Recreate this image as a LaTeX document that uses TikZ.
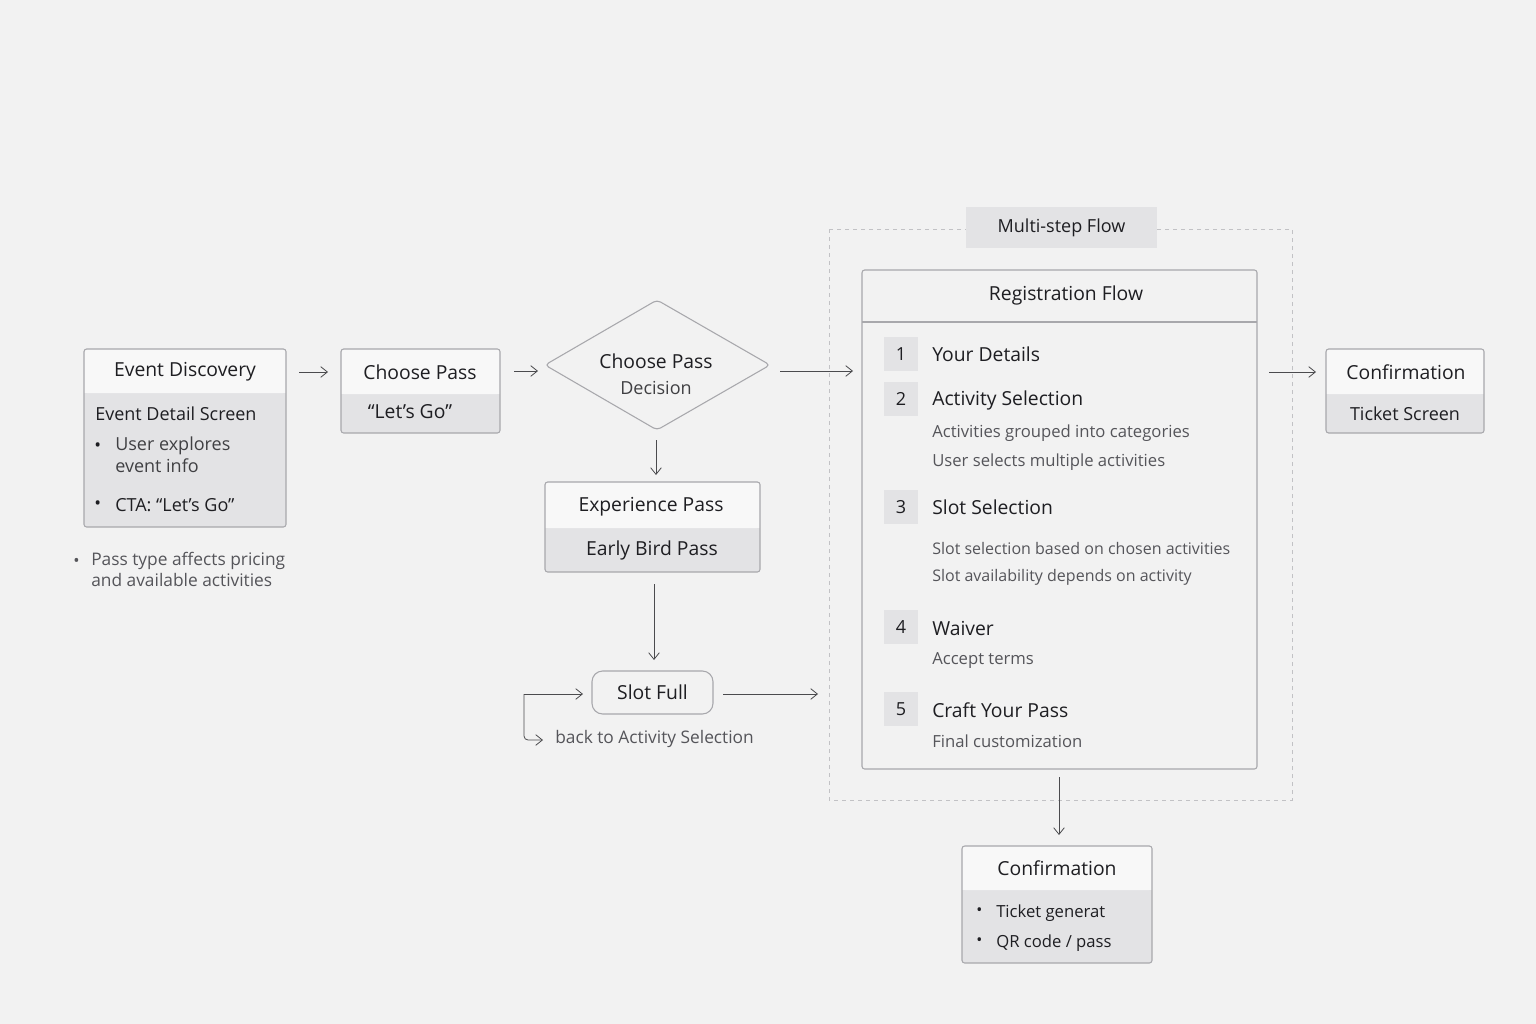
\documentclass[tikz,border=0pt]{standalone}
\usepackage{fontspec}
\setmainfont{Open Sans}
\usetikzlibrary{arrows.meta,shapes.geometric}
\definecolor{bg}{HTML}{F2F2F2}
\definecolor{hd}{HTML}{F8F8F8}
\definecolor{bd}{HTML}{E3E3E5}
\definecolor{ln}{HTML}{A8A8AC}
\definecolor{tx}{HTML}{1E1E22}
\definecolor{sub}{HTML}{55555A}
\tikzset{
 box/.style={draw=ln,line width=0.8pt,rounded corners=2pt},
 t/.style={text=tx,font=\fontsize{14.5}{17}\selectfont,inner sep=0},
 s/.style={text=tx,font=\fontsize{13.5}{16}\selectfont,inner sep=0},
 g/.style={text=sub,font=\fontsize{12.5}{15}\selectfont,inner sep=0,anchor=west},
 arr/.style={draw=tx!80,line width=0.6pt,-{Straight Barb[length=5pt,width=8pt]}},
 num/.style={fill=bd,minimum width=25pt,minimum height=25pt,inner sep=0,text=tx,font=\fontsize{13.5}{16}\selectfont},
}
\begin{document}
\begin{tikzpicture}[x=0.75pt,y=-0.75pt]
\fill[bg] (0,0) rectangle (1536,1024);
\useasboundingbox (0,0) rectangle (1536,1024);
% Event Discovery
\fill[bd,rounded corners=2pt] (84,349) rectangle (286,527);
\fill[hd,rounded corners=2pt] (84,349) rectangle (286,393);
\fill[hd] (84,370) rectangle (286,393);
\draw[box] (84,349) rectangle (286,527);
\node[t] (ed) at (185,372) {Event Discovery};
\node[s,anchor=west] (eds) at (95,414) {Event Detail Screen};
\node[s,anchor=west] (b1) at (94,447) {•};
\node[s,anchor=north west,align=left,text=tx!85] (b1t) at (115,437) {User explores\\event info};
\node[s,anchor=west] (b2) at (94,505) {•};
\node[s,anchor=west] (b2t) at (115,505) {CTA: “Let’s Go”};
\node[g,anchor=west] (nb) at (73,562) {•};
\node[g,anchor=north west,align=left,font=\fontsize{13}{16}\selectfont] (nt) at (91,552) {Pass type affects pricing\\and available activities};
% Choose Pass box
\fill[bd,rounded corners=2pt] (341,349) rectangle (500,433);
\fill[hd,rounded corners=2pt] (341,349) rectangle (500,394);
\fill[hd] (341,375) rectangle (500,394);
\draw[box] (341,349) rectangle (500,433);
\node[t] (cp) at (420,372) {Choose Pass};
\node[t] (lg) at (410,412) {“Let’s Go”};
\coordinate (a1s) at (299,372); \coordinate (a1e) at (328,372);
\draw[arr] (a1s) -- (a1e);
\coordinate (a2s) at (514,371); \coordinate (a2e) at (538,371);
\draw[arr] (a2s) -- (a2e);
% diamond
\draw[ln,line width=0.8pt,fill=bg,rounded corners=3pt] (657,300) -- (770,365) -- (657,430) -- (545,365) -- cycle;
\node[t] (dt) at (656,361) {Choose Pass};
\node[s,text=tx!85] (dd) at (656,388) {Decision};
\coordinate (a3s) at (780,371); \coordinate (a3e) at (853,371);
\draw[arr] (a3s) -- (a3e);
\coordinate (a4s) at (656,440); \coordinate (a4e) at (656,475);
\draw[arr] (a4s) -- (a4e);
% Experience pass
\fill[bd,rounded corners=2pt] (545,482) rectangle (760,572);
\fill[hd,rounded corners=2pt] (545,482) rectangle (760,528);
\fill[hd] (545,505) rectangle (760,528);
\draw[box] (545,482) rectangle (760,572);
\node[t] (ep) at (651,507) {Experience Pass};
\node[t] (eb) at (652,550) {Early Bird Pass};
\coordinate (a5s) at (654,584); \coordinate (a5e) at (654,660);
\draw[arr] (a5s) -- (a5e);
% Slot Full
\node[box,fill=bg,rounded corners=8pt,minimum width=121*0.75pt,minimum height=43*0.75pt,t] (sf) at (652.5,692.5) {Slot Full};
\coordinate (a6s) at (723,694); \coordinate (a6e) at (818,694);
\draw[arr] (a6s) -- (a6e);
\coordinate (l1) at (583,694); \coordinate (l0) at (524,694); \coordinate (l2) at (524,740); \coordinate (l3) at (543,740);
\draw[arr,rounded corners=3pt] (l0) -- (l1);
\draw[arr,rounded corners=3pt] (l0) -- (l2) -- (l3);
\node[g,font=\fontsize{13}{16}\selectfont] (bk) at (555,739) {back to Activity Selection};
% dashed frame
\draw[ln!70,dash pattern=on 3pt off 3pt,line width=0.6pt] (829,229) rectangle (1292,800);
\node[fill=bd,minimum width=191*0.75pt,minimum height=41*0.75pt,t,font=\fontsize{13.5}{16}\selectfont] (ms) at (1061.5,227.5) {Multi-step Flow};
% Registration
\draw[box,fill=bg] (862,270) rectangle (1257,769);
\draw[ln,line width=0.8pt] (862,322) -- (1257,322);
\node[t] (rf) at (1066,295) {Registration Flow};
\node[num] (n1) at (901,354) {1};
\node[t,anchor=west] (i1) at (932,354) {Your Details};
\node[num] (n2) at (901,399) {2};
\node[t,anchor=west] (i2) at (932,400) {Activity Selection};
\node[g] (i2a) at (932,433) {Activities grouped into categories};
\node[g] (i2b) at (932,462) {User selects multiple activities};
\node[num] (n3) at (901,507) {3};
\node[t,anchor=west] (i3) at (932,507) {Slot Selection};
\node[g,font=\fontsize{12}{15}\selectfont] (i3a) at (932,548) {Slot selection based on chosen activities};
\node[g,font=\fontsize{12}{15}\selectfont] (i3b) at (932,577) {Slot availability depends on activity};
\node[num] (n4) at (901,627) {4};
\node[t,anchor=west] (i4) at (932,628) {Waiver};
\node[g] (i4a) at (932,661) {Accept terms};
\node[num] (n5) at (901,709) {5};
\node[t,anchor=west] (i5) at (932,710) {Craft Your Pass};
\node[g] (i5a) at (932,741) {Final customization};
\coordinate (a7s) at (1269,372); \coordinate (a7e) at (1316,372);
\draw[arr] (a7s) -- (a7e);
% Confirmation right
\fill[bd,rounded corners=2pt] (1326,349) rectangle (1484,433);
\fill[hd,rounded corners=2pt] (1326,349) rectangle (1484,394);
\fill[hd] (1326,375) rectangle (1484,394);
\draw[box] (1326,349) rectangle (1484,433);
\node[t] (cr) at (1406,372) {Confirmation};
\node[s] (ts) at (1405,414) {Ticket Screen};
\coordinate (a8s) at (1059,777); \coordinate (a8e) at (1059,835);
\draw[arr] (a8s) -- (a8e);
% Confirmation bottom
\fill[bd,rounded corners=2pt] (962,846) rectangle (1152,963);
\fill[hd,rounded corners=2pt] (962,846) rectangle (1152,890);
\fill[hd] (962,870) rectangle (1152,890);
\draw[box] (962,846) rectangle (1152,963);
\node[t] (cb) at (1057,868) {Confirmation};
\node[s,anchor=west,font=\fontsize{12}{15}\selectfont] (c1) at (976,912) {•};
\node[s,anchor=west,font=\fontsize{12.5}{15}\selectfont] (c1t) at (996,913) {Ticket generat};
\node[s,anchor=west,font=\fontsize{12}{15}\selectfont] (c2) at (976,942) {•};
\node[s,anchor=west,font=\fontsize{12.5}{15}\selectfont] (c2t) at (996,943) {QR code / pass};
\end{tikzpicture}
\end{document}
